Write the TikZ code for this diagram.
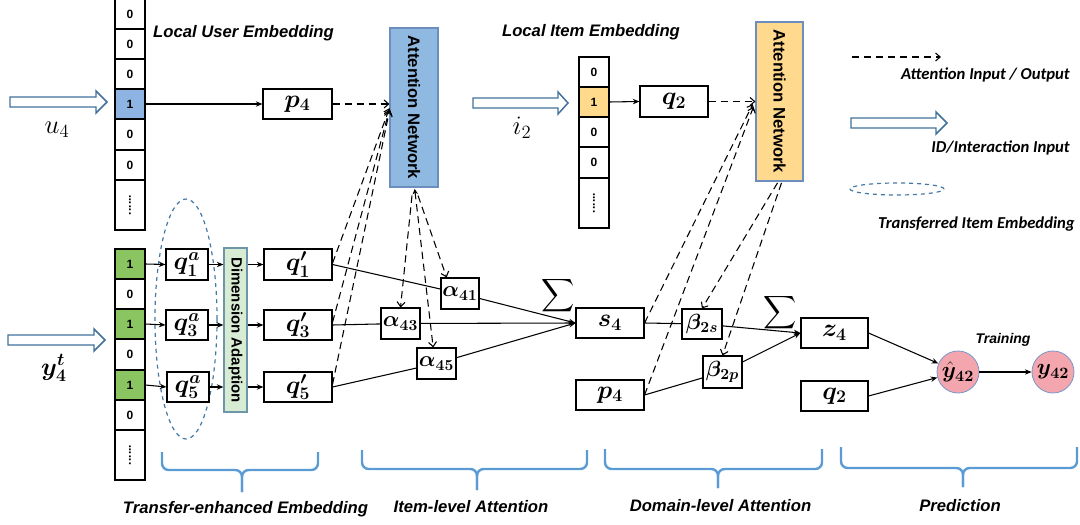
\documentclass[tikz,border=0pt]{standalone}
\usepackage{fix-cm}
\usepackage{amsmath,bm}
\usepackage{fontspec}
\setmainfont{Liberation Sans}
\newfontfamily\calib{Carlito}
\usepackage{graphicx}
\usetikzlibrary{arrows.meta,calc,shapes.geometric}
\definecolor{cellblue}{RGB}{141,180,226}
\definecolor{cellgreen}{RGB}{139,197,98}
\definecolor{cellorange}{RGB}{255,217,140}
\definecolor{attblue}{RGB}{143,185,225}
\definecolor{attorange}{RGB}{255,217,142}
\definecolor{attborder}{RGB}{108,142,191}
\definecolor{dimgreen}{RGB}{216,235,211}
\definecolor{dimborder}{RGB}{110,150,170}
\definecolor{arrowblue}{RGB}{65,113,156}
\definecolor{ellblue}{RGB}{70,120,165}
\definecolor{braceblue}{RGB}{91,155,213}
\definecolor{circpink}{RGB}{244,166,174}
\definecolor{circborder}{RGB}{120,150,200}
\newcommand\mybig{\fontsize{19}{19}\selectfont}
\newcommand\myalph{\fontsize{16.5}{16.5}\selectfont}
\newcommand\mycell{\fontsize{9}{9}\selectfont\bfseries}
\newcommand\myatt{\fontsize{12.5}{12.5}\selectfont\bfseries}
\newcommand\hollow[4]{\draw[hol] (#1,#4-5) -- (#3,#4-5) -- (#3,#4-11) -- (#2,#4) -- (#3,#4+11) -- (#3,#4+5) -- (#1,#4+5) -- cycle;}
\newcommand\mybrace[6]{\draw[brc] (#1,#4) -- (#1,#5) -- (#3,#5) -- (#3,#6); \draw[brc] (#2,#4) -- (#2,#5) -- (#3,#5) -- (#3,#6);}
\begin{document}
\begin{tikzpicture}[x=0.75pt,y=-0.75pt,
  every node/.style={inner sep=0pt},
  bx/.style 2 args={draw, line width=0.8pt, fill=white, minimum width=#1*0.75pt, minimum height=#2*0.75pt, font=\mybig},
  cell/.style={draw, line width=0.8pt, minimum width=22.5pt, minimum height=#1*0.75pt, font=\mycell},
  cell/.default=30,
  con/.style={line width=0.8pt},
  arr/.style={con,-{Stealth[length=5pt,width=4pt]}},
  dsh/.style={line width=0.8pt, dash pattern=on 5.5pt off 3.5pt, -{Straight Barb[length=3.5pt,width=6pt]}},
  hol/.style={draw=arrowblue, line width=1.1pt, fill=white},
  brc/.style={draw=braceblue, line width=1.8pt, rounded corners=5pt},
  lbl/.style={font=\fontsize{12.5}{14}\selectfont\bfseries\itshape},
  leg/.style={font=\calib\fontsize{12.5}{14}\selectfont\bfseries\itshape},
]
\useasboundingbox (0,0) rectangle (1080,524);

% user one-hot vector
\node[cell] (uc1) at (130,14) {0};
\node[cell] (uc2) at (130,44) {0};
\node[cell] (uc3) at (130,74) {0};
\node[cell, fill=cellblue] (uc4) at (130,104) {1};
\node[cell=31] (uc5) at (130,134.5) {0};
\node[cell] (uc6) at (130,165) {0};
\node[cell=50] (ucd) at (130,205) {\rotatebox{90}{......}};

% interaction vector
\node[cell, fill=cellgreen] (ic1) at (130,264) {1};
\node[cell] (ic2) at (130,294) {0};
\node[cell, fill=cellgreen] (ic3) at (130,324) {1};
\node[cell=31] (ic4) at (130,354.5) {0};
\node[cell, fill=cellgreen] (ic5) at (130,385) {1};
\node[cell] (ic6) at (130,415) {0};
\node[cell=50] (icd) at (130,455) {\rotatebox{90}{......}};

% local item vector
\node[cell] (lc1) at (594,72) {0};
\node[cell, fill=cellorange] (lc2) at (594,102) {1};
\node[cell] (lc3) at (594,132) {0};
\node[cell=31] (lc4) at (594,162.5) {0};
\node[cell=50] (lcd) at (594,203) {\rotatebox{90}{......}};

% transferred ellipse
\node[draw=ellblue, dashed, ellipse, line width=0.9pt, minimum width=46.5pt, minimum height=180pt] (ell) at (186,319) {};

% boxes
\node[bx={69}{30}] (p4t) at (297.5,104) {$\bm{p_4}$};
\node[bx={68}{31}] (q2t) at (674,101.5) {$\bm{q_2}$};
\node[bx={42}{31}] (q1a) at (187,264.5) {$\bm{q^a_1}$};
\node[bx={42}{30}] (q3a) at (187,325) {$\bm{q^a_3}$};
\node[bx={42}{30}] (q5a) at (188,387) {$\bm{q^a_5}$};
\node[draw=dimborder, fill=dimgreen, line width=0.8pt, minimum width=17.25pt, minimum height=123pt] (dim) at (235.5,330) {\rotatebox{-90}{\fontsize{11.2}{11.2}\selectfont\bfseries Dimension Adaption}};
\node[bx={68}{31}] (q1p) at (298,264.5) {$\bm{q'_1}$};
\node[bx={68}{30}] (q3p) at (298,325) {$\bm{q'_3}$};
\node[bx={68}{30}] (q5p) at (298,387) {$\bm{q'_5}$};

\node[draw=attborder, fill=attblue, line width=0.8pt, minimum width=36pt, minimum height=119.25pt] (att1) at (414,107.5) {\rotatebox{-90}{\myatt Attention Network}};
\node[draw=attborder, fill=attorange, line width=0.8pt, minimum width=35.25pt, minimum height=119.25pt] (att2) at (779.5,101.5) {\rotatebox{-90}{\myatt Attention Network}};

\node[bx={38}{31}, font=\myalph] (a41) at (460,293.5) {$\bm{\alpha_{41}}$};
\node[bx={39}{31}, font=\myalph] (a43) at (400.5,323.5) {$\bm{\alpha_{43}}$};
\node[bx={39}{31}, font=\myalph] (a45) at (436.5,363.5) {$\bm{\alpha_{45}}$};
\node[bx={68}{30}] (s4) at (610,323) {$\bm{s_4}$};
\node[bx={68}{30}] (p4l) at (610,395) {$\bm{p_4}$};
\node[bx={40}{30}, font=\myalph] (b2s) at (702,324) {$\bm{\beta_{2s}}$};
\node[bx={39}{32}, font=\myalph] (b2p) at (722.5,372) {$\bm{\beta_{2p}}$};
\node[bx={67}{30}] (z4) at (834.5,333) {$\bm{z_4}$};
\node[bx={67}{30}] (q2l) at (834.5,396) {$\bm{q_2}$};

\node[circle, draw=circborder, fill=circpink, line width=0.6pt, minimum size=31.5pt, font=\fontsize{17}{17}\selectfont] (yh) at (958,372) {$\bm{\hat{y}_{42}}$};
\node[circle, draw=circborder, fill=circpink, line width=0.6pt, minimum size=31.5pt, font=\fontsize{17}{17}\selectfont] (y42) at (1053,372) {$\bm{y_{42}}$};
\node[font=\fontsize{10.5}{12}\selectfont\bfseries\itshape] (tr) at (1003,340) {Training};

\node (sig1) at (558.5,296) {\fontsize{17}{17}\selectfont$\displaystyle\sum$};
\node (sig2) at (780.5,312.5) {\fontsize{17}{17}\selectfont$\displaystyle\sum$};

% input labels and arrows
\node (u4l) at (57,130) {\fontsize{20}{20}\selectfont$u_4$};
\node (i2l) at (522,128) {\fontsize{20}{20}\selectfont$i_2$};
\node (y4l) at (54,368) {\fontsize{19}{19}\selectfont$\bm{y^t_4}$};
\hollow{10}{107}{96}{102}
\hollow{8}{105}{94}{340}
\hollow{473}{568}{558}{103}

% titles
\node[lbl] (t1) at (243.5,33) {Local User Embedding};
\node[lbl] (t2) at (591,32) {Local Item Embedding};

% legend
\coordinate (lgA) at (852,57);
\coordinate (lgB) at (941,57);
\draw[dsh] (lgA) -- (lgB);
\node[leg, anchor=east] (lg1) at (1070,75) {Attention Input / Output};
\hollow{851}{947}{936}{123}
\node[leg, anchor=east] (lg2) at (1070,148) {ID/Interaction Input};
\node[draw=ellblue, dashed, ellipse, line width=0.9pt, minimum width=70.5pt, minimum height=9pt] (lge) at (897,189) {};
\node[leg, anchor=east] (lg3) at (1075,224) {Transferred Item Embedding};

% braces
\mybrace{162}{318}{242}{452}{470}{492}
\mybrace{362}{587}{477}{450}{469}{490}
\mybrace{605}{822}{718}{449}{469}{488}
\mybrace{841}{1077}{963}{447}{468}{487}
\node[lbl] (bt1) at (245.5,509) {Transfer-enhanced Embedding};
\node[lbl] (bt2) at (471,507) {Item-level Attention};
\node[lbl] (bt3) at (720.5,506) {Domain-level Attention};
\node[lbl] (bt4) at (960,506) {Prediction};

% solid connectors
\draw[arr] (uc4.east) -- (p4t.west);
\draw[arr] (lc2.east) -- (q2t.west);
\draw[arr] (ic1.east) -- (q1a.west);
\draw[arr] (ic3.east) -- (q3a.west);
\draw[arr] (ic5.east) -- (q5a.west);
\draw[arr] (q1a.east) -- (dim.west |- q1a.east);
\draw[arr] (q3a.east) -- (dim.west |- q3a.east);
\draw[arr] (q5a.east) -- (dim.west |- q5a.east);
\draw[arr] (dim.east |- q1p.west) -- (q1p.west);
\draw[arr] (dim.east |- q3p.west) -- (q3p.west);
\draw[arr] (dim.east |- q5p.west) -- (q5p.west);
\draw[con] (q1p.east) -- (a41);
\draw[arr] (a41) -- (s4.west);
\draw[con] (q3p.east) -- (a43);
\draw[arr] (a43) -- (s4.west);
\draw[con] (q5p.east) -- (a45);
\draw[arr] (a45) -- (s4.west);
\draw[con] (s4.east) -- (b2s);
\draw[arr] (b2s) -- (z4.west);
\draw[con] (p4l.east) -- (b2p);
\draw[arr] (b2p) -- (z4.west);
\draw[arr] (z4.east) -- (yh);
\draw[arr] (q2l.east) -- (yh);
\draw[arr] (yh) -- (y42);

% dashed attention connectors
\draw[dsh] (p4t.east) -- (att1.west |- p4t.east);
\draw[dsh] ([yshift=1pt]q1p.east) -- ([yshift=-0.5pt]att1.west);
\draw[dsh] ([yshift=2pt]q3p.east) -- ([yshift=-1.5pt]att1.west);
\draw[dsh] ([yshift=2pt]q5p.east) -- ([yshift=-2.5pt]att1.west);
\draw[dsh] ([xshift=-1.5pt,yshift=-6pt]att1.south) -- (a43.north);
\draw[dsh, {Stealth[length=4pt,width=4pt]}-{Straight Barb[length=3.5pt,width=6pt]}] ([xshift=0.5pt,yshift=-1pt]att1.south) -- ([xshift=-2.5pt]a45.north);
\draw[dsh] ([xshift=3pt,yshift=-6pt]att1.south) -- ([xshift=-10pt]a41.north);
\draw[dsh] (q2t.east) -- (att2.west |- q2t.east);
\draw[dsh] (s4.east) -- ([xshift=-2pt,yshift=-2pt]att2.west);
\draw[dsh] (p4l.east) -- ([xshift=-1.5pt,yshift=-4pt]att2.west);
\draw[dsh] ([xshift=-1.5pt,yshift=-1pt]att2.south) -- (b2s.north);
\draw[dsh] ([xshift=1.5pt,yshift=-1pt]att2.south) -- (b2p.north);
\end{tikzpicture}
\end{document}
